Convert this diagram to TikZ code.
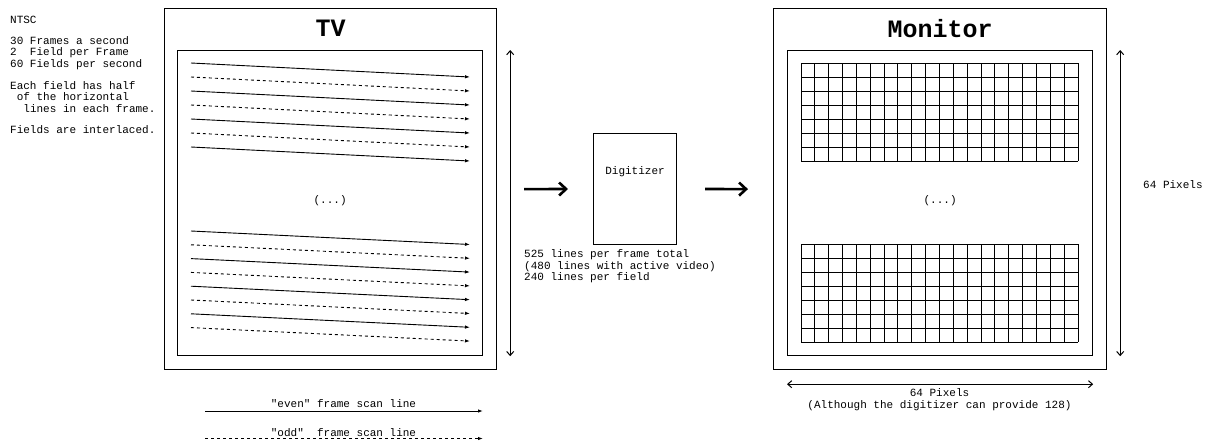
\documentclass[tikz,border=0pt]{standalone}
\usepackage{fontspec}
\setmonofont{Liberation Mono}
\usetikzlibrary{arrows.meta,positioning}

\begin{document}
\begin{tikzpicture}[x=1pt, y=-1pt,
  frame/.style={draw, line width=1.2pt, inner sep=0pt, anchor=north west},
  txt/.style={font=\ttfamily\fontsize{11}{11.5}\selectfont, inner sep=0pt, align=left},
  title/.style={font=\ttfamily\bfseries\fontsize{25}{25}\selectfont, inner sep=0pt},
  scan/.style={-{Latex[length=5pt,width=3.5pt]}, line width=0.9pt},
  oddscan/.style={-{Latex[open,length=5pt,width=3.5pt]}, line width=0.9pt, dash pattern=on 3pt off 3pt},
  dim/.style={{Straight Barb[length=4pt,width=7pt]}-{Straight Barb[length=4pt,width=7pt]}, line width=1pt},
  feed/.style={-{Straight Barb[length=7pt,width=13pt]}, line width=2.6pt},
  cell/.style={line width=1pt}
]
\useasboundingbox (0,0) rectangle (1211,440);

\node[txt, anchor=west] (ntsc) at (10,20) {NTSC};
\node[txt, anchor=west] (rates) at (10,53) {30 Frames a second\\2\hphantom{xx}Field per Frame\\60 Fields per second};
\node[txt, anchor=west] (half) at (10,97) {Each field has half\\\hphantom{x}of the horizontal\\\hphantom{xx}lines in each frame.};
\node[txt, anchor=west] (interlace) at (10,130) {Fields are interlaced.};

\node[frame, minimum width=332pt, minimum height=361pt] (tv) at (164,8) {};
\node[frame, minimum width=305pt, minimum height=305pt] (tvscreen) at (177,50) {};
\node[title] (tvtitle) at ([yshift=-20.5pt]tv.north) {TV};
\node[txt] (tvgap) at ([yshift=2pt]tvscreen.center) {(...)};

\foreach \k in {0,2,4,6} \draw[scan] (191,63+14*\k) -- (470,77+14*\k);
\foreach \k in {1,3,5} \draw[oddscan] (191,63+14*\k) -- (470,77+14*\k);
\foreach \k in {0,2,4,6} \draw[scan] (191,231+13.8*\k) -- (470,244.5+13.8*\k);
\foreach \k in {1,3,5,7} \draw[oddscan] (191,231+13.8*\k) -- (470,244.5+13.8*\k);

\node[frame, line width=1pt, minimum width=83pt, minimum height=111pt] (dig) at (593,133) {};
\node[txt] (diglbl) at ([yshift=-39pt]dig.north) {Digitizer};
\node[txt, anchor=west] (linecount) at (524,266.5) {525 lines per frame total\\(480 lines with active video)\\240 lines per field};

\node[frame, minimum width=333pt, minimum height=361pt] (mon) at (773,8) {};
\node[frame, minimum width=305pt, minimum height=305pt] (monscreen) at (787,50) {};
\node[title] (montitle) at ([yshift=-21pt]mon.north) {Monitor};
\node[txt] (mongap) at ([yshift=2pt]monscreen.center) {(...)};

\foreach \gy in {63,244} {
  \foreach \i in {0,...,20} \draw[cell] (801+13.85*\i,\gy) -- ++(0,98);
  \foreach \j in {0,...,7} \draw[cell] (801,\gy+14*\j) -- ++(277,0);
}

\node[txt, anchor=west] (vpix) at (1143,185) {64 Pixels};
\node[txt, align=center] (hpix) at (939.5,399.5) {64 Pixels\\(Although the digitizer can provide 128)};

\node[txt] (evenlbl) at (343.5,404) {"even" frame scan line};
\node[txt] (oddlbl) at (343.5,433) {"odd"\hphantom{xx}frame scan line};
\coordinate (evenL) at (205,411);
\coordinate (evenR) at (483,411);
\coordinate (oddL) at (205,438.5);
\coordinate (oddR) at (483,438.5);

\draw[scan] (evenL) -- (evenR);
\draw[oddscan] (oddL) -- (oddR);
\draw[feed] ([xshift=27pt]tv.east) -- ([xshift=-25pt]dig.west);
\draw[feed] ([xshift=28pt]dig.east) -- ([xshift=-25pt]mon.west);
\draw[dim] ([xshift=27pt]tvscreen.north east) -- ([xshift=27pt]tvscreen.south east);
\draw[dim] ([xshift=27pt]monscreen.north east) -- ([xshift=27pt]monscreen.south east);
\draw[dim] ([yshift=-28pt]monscreen.south west) -- ([yshift=-28pt]monscreen.south east);
\end{tikzpicture}
\end{document}
